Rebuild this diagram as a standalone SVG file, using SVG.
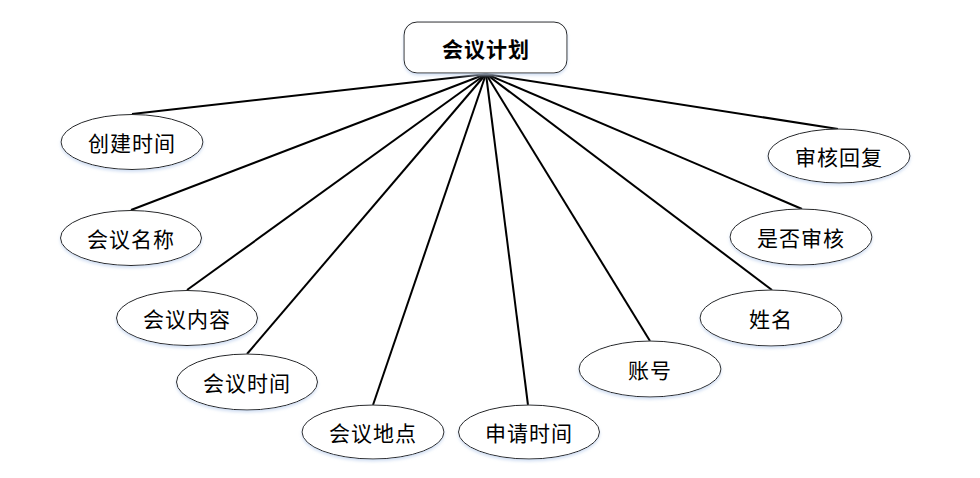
<svg xmlns="http://www.w3.org/2000/svg" width="980" height="478" viewBox="0 0 980 478">
<defs>
<filter id="sh" x="-10%" y="-10%" width="120%" height="130%">
<feDropShadow dx="0" dy="2" stdDeviation="1.5" flood-color="#c8d8f0" flood-opacity="0.8"/>
</filter>
</defs>
<style>
.attr ellipse{fill:#fff;stroke:#222;stroke-width:1;filter:url(#sh)}
.attr text{font-family:"Noto Sans CJK SC","Liberation Sans",sans-serif;font-size:21px;fill:#000;text-anchor:middle;dominant-baseline:central;letter-spacing:1px}
.conn line{stroke:#000;stroke-width:2}
.main rect{fill:#fff;stroke:#222;stroke-width:1;filter:url(#sh)}
.main text{font-family:"Noto Sans CJK SC","Liberation Sans",sans-serif;font-size:21px;font-weight:bold;fill:#000;text-anchor:middle;dominant-baseline:central;letter-spacing:1px}
</style>
<rect width="980" height="478" fill="#fff"/>
<g id="connectors" class="conn">
<line x1="486" y1="74" x2="132" y2="114"/>
<line x1="486" y1="74" x2="131" y2="210"/>
<line x1="486" y1="74" x2="187" y2="290"/>
<line x1="486" y1="74" x2="247" y2="354"/>
<line x1="486" y1="74" x2="373" y2="405"/>
<line x1="486" y1="74" x2="528" y2="405"/>
<line x1="486" y1="74" x2="650" y2="341"/>
<line x1="486" y1="74" x2="772" y2="290"/>
<line x1="486" y1="74" x2="802" y2="209"/>
<line x1="486" y1="74" x2="838" y2="129"/>
</g>
<g id="n0" class="main">
<rect x="404" y="22" width="163" height="51" rx="13" ry="13"/>
<text x="486" y="48">会议计划</text>
</g>
<g id="n1" class="attr"><ellipse cx="132" cy="142" rx="71" ry="27.5"/><text x="132" y="142">创建时间</text></g>
<g id="n2" class="attr"><ellipse cx="131" cy="238" rx="70.5" ry="27.5"/><text x="131" y="238">会议名称</text></g>
<g id="n3" class="attr"><ellipse cx="187" cy="318" rx="70.5" ry="27.5"/><text x="187" y="318">会议内容</text></g>
<g id="n4" class="attr"><ellipse cx="247" cy="382" rx="70.5" ry="28"/><text x="247" y="382">会议时间</text></g>
<g id="n5" class="attr"><ellipse cx="373" cy="432" rx="71" ry="27"/><text x="373" y="432">会议地点</text></g>
<g id="n6" class="attr"><ellipse cx="529" cy="432" rx="70.5" ry="27"/><text x="529" y="432">申请时间</text></g>
<g id="n7" class="attr"><ellipse cx="650" cy="369" rx="71" ry="28"/><text x="650" y="369">账号</text></g>
<g id="n8" class="attr"><ellipse cx="771" cy="318" rx="71" ry="28"/><text x="771" y="318">姓名</text></g>
<g id="n9" class="attr"><ellipse cx="801" cy="237" rx="71" ry="28"/><text x="801" y="237">是否审核</text></g>
<g id="n10" class="attr"><ellipse cx="839" cy="156" rx="71" ry="27"/><text x="839" y="156">审核回复</text></g>
</svg>
